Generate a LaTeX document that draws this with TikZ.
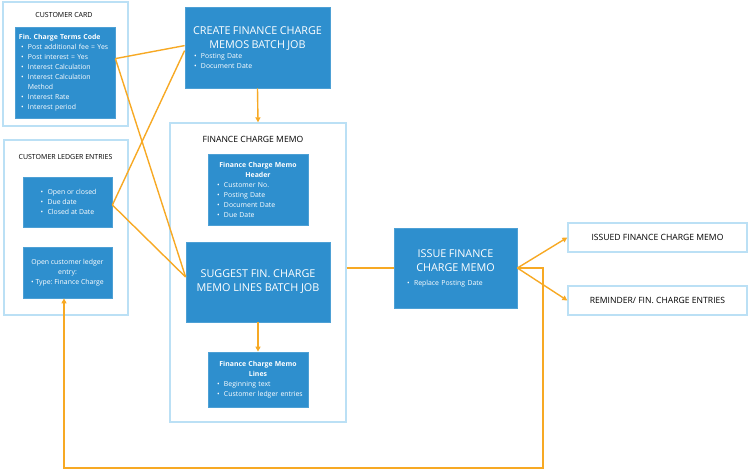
\documentclass[tikz,border=0pt]{standalone}
\usepackage{fontspec}
\setmainfont{Open Sans}
\usetikzlibrary{arrows.meta,calc}
\definecolor{boxblue}{RGB}{46,143,206}
\definecolor{paleblue}{RGB}{187,224,245}
\definecolor{flowor}{RGB}{247,169,36}
\newcommand{\bitem}[1]{\makebox[9pt][l]{\hspace{2pt}\textbullet}\mbox{#1}}
\newcommand{\bigfont}{\fontsize{10.8}{14}\selectfont}
\frenchspacing

\begin{document}
\begin{tikzpicture}[x=1pt,y=-1pt,
  outerbox/.style={draw=paleblue,line width=1.3pt,fill=white,inner sep=0pt},
  bluebox/.style={draw=boxblue!85!white,line width=0.8pt,fill=boxblue,text=white,inner sep=0pt,
    font=\fontsize{6.9}{10}\selectfont},
  headtext/.style={font=\fontsize{7}{8}\selectfont,inner sep=0pt},
  widehead/.style={font=\fontsize{8.6}{10}\selectfont,inner sep=0pt},
  flow/.style={draw=flowor,line width=1.4pt},
  flowarrow/.style={flow,-{Triangle[length=5pt,width=5pt]}}]
\useasboundingbox (0,0) rectangle (750,473);

% customer card
\node[outerbox,minimum width=125,minimum height=124] (card) at (65.5,64) {};
\node[headtext] (cardtitle) at (64,15) {CUSTOMER CARD};
\node[bluebox,minimum width=100,minimum height=91,text width=92,align=left] (cardterms) at (65,72.5)
  {\textbf{Fin. Charge Terms Code}\\
   \bitem{Post additional fee = Yes}\\
   \bitem{Post interest = Yes}\\
   \bitem{Interest Calculation}\\
   \bitem{Interest Calculation}\\
   \hspace*{9pt}Method\\
   \bitem{Interest Rate}\\
   \bitem{Interest period}};

% customer ledger entries
\node[outerbox,minimum width=124,minimum height=175] (ledger) at (66,227.5) {};
\node[headtext] (ledgertitle) at (65.5,157) {CUSTOMER LEDGER ENTRIES};
\node[bluebox,minimum width=89,minimum height=50,align=left] (ledgerdue) at (67.5,202)
  {\bitem{Open or closed}\\ \bitem{Due date}\\ \bitem{Closed at Date}};
\node[bluebox,minimum width=89,minimum height=51,align=center] (ledgerentry) at (67.5,272.5)
  {Open customer ledger\\ entry:\\ \textbullet\ Type: Finance Charge};

% batch job
\node[bluebox,minimum width=145,minimum height=81,text width=131,align=left] (create) at (257.5,47.5)
  {{\centering\bigfont CREATE FINANCE CHARGE\\ MEMOS BATCH JOB\par}
   \bitem{Posting Date}\\ \bitem{Document Date}};

% finance charge memo
\node[outerbox,minimum width=176,minimum height=299] (memo) at (258,272.5) {};
\node[widehead] (memotitle) at (253,139) {FINANCE CHARGE MEMO};
\node[bluebox,minimum width=100,minimum height=71,text width=86,align=left] (header) at (258,189.5)
  {{\centering\textbf{Finance Charge Memo}\\ \textbf{Header}\par}
   \bitem{Customer No.}\\ \bitem{Posting Date}\\ \bitem{Document Date}\\ \bitem{Due Date}};
\node[bluebox,minimum width=144,minimum height=80,align=center,font=\bigfont] (suggest) at (258,282)
  {SUGGEST FIN. CHARGE\\ MEMO LINES BATCH JOB};
\node[bluebox,minimum width=100,minimum height=55,text width=86,align=left] (lines) at (258,379.5)
  {{\centering\textbf{Finance Charge Memo}\\ \textbf{Lines}\par}
   \bitem{Beginning text}\\ \bitem{Customer ledger entries}};

% issue
\node[bluebox,minimum width=123,minimum height=80,text width=101,align=left] (issue) at (455.5,268)
  {{\centering\bigfont ISSUE FINANCE\\ CHARGE MEMO\par}
   \vspace{4pt}\bitem{Replace Posting Date}};
\node[outerbox,minimum width=179,minimum height=29,widehead] (issued) at (657.5,237.5)
  {ISSUED FINANCE CHARGE MEMO};
\node[outerbox,minimum width=179,minimum height=29,widehead] (reminder) at (657.5,300.5)
  {REMINDER/ FIN. CHARGE ENTRIES};

% connectors
\draw[flow] ($(cardterms.north east)+(0,32)$) -- ($(create.north west)+(0,39)$);
\draw[flow] ($(cardterms.north east)+(0,32)$) -- ($(suggest.west)+(0,-5)$);
\draw[flow] ($(ledgerdue.east)+(0,3)$) -- ($(create.north west)+(0,44)$);
\draw[flow] ($(ledgerdue.east)+(0,3)$) -- ($(suggest.west)+(0,-5)$);
\draw[flowarrow] (create.south) -- (memo.north);
\draw[flowarrow] (suggest.south) -- (lines.north);
\draw[flow] (memo.east |- issue.west) -- (issue.west);
\draw[flowarrow] (issue.east) -- (issued.west);
\draw[flowarrow] (issue.east) -- (reminder.west);
\coordinate (loopbot) at (543,468);
\draw[flowarrow] (issue.east) -| (loopbot) -| ([xshift=-3.5pt]ledgerentry.south);
\end{tikzpicture}
\end{document}
